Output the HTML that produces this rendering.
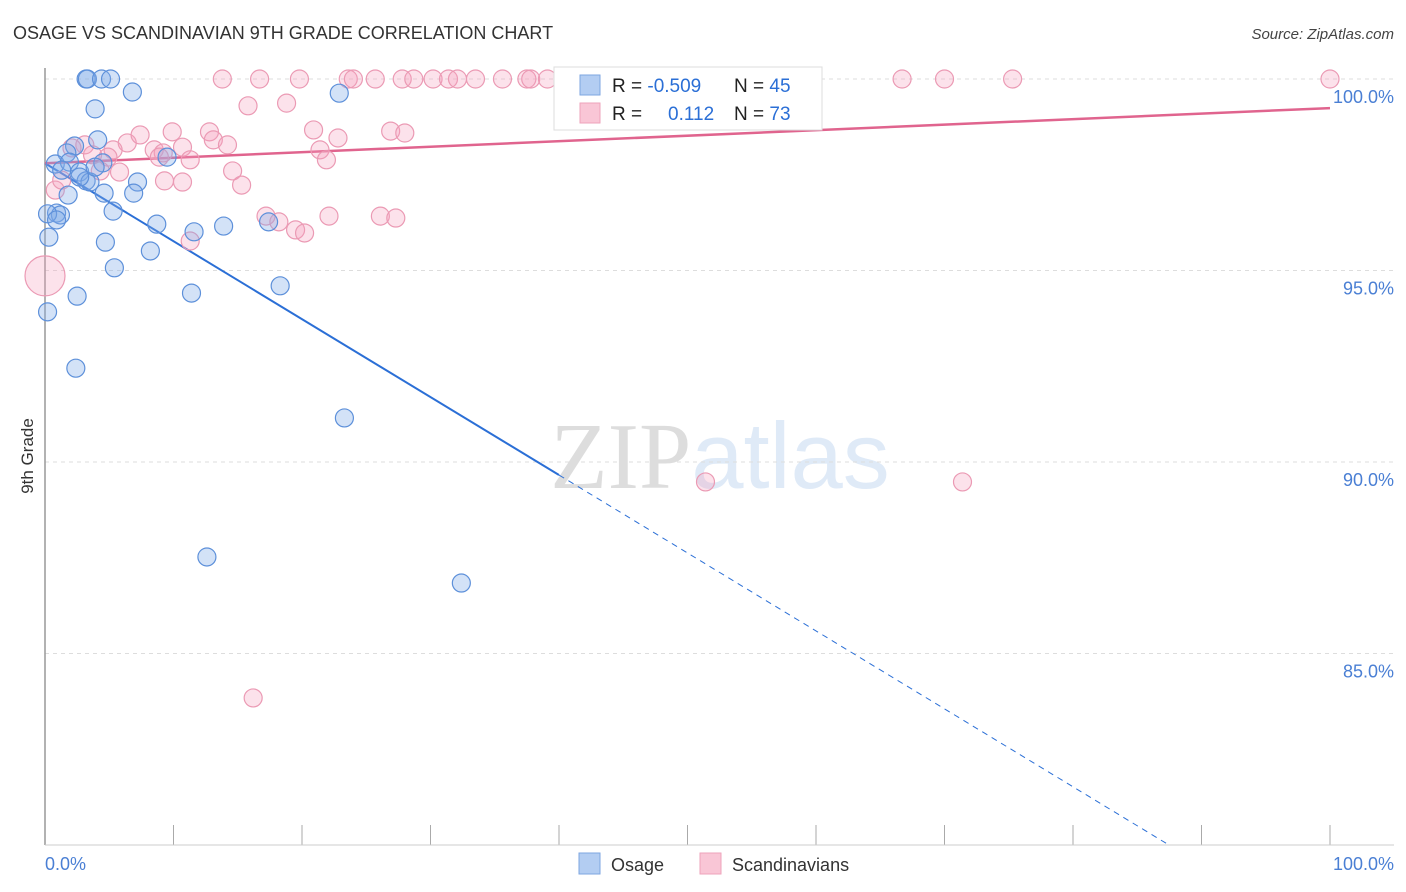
<!DOCTYPE html>
<html><head><meta charset="utf-8"><style>
body{margin:0;background:#fff;font-family:"Liberation Sans",sans-serif}
svg{display:block}
</style></head><body>
<svg width="1406" height="892" viewBox="0 0 1406 892">
<text x="13" y="39" font-size="18" fill="#333">OSAGE VS SCANDINAVIAN 9TH GRADE CORRELATION CHART</text>
<text x="1394" y="39" font-size="15" fill="#444" text-anchor="end" font-style="italic">Source: ZipAtlas.com</text>
<text x="720" y="488" font-size="94" text-anchor="middle" opacity="0.28"><tspan font-family="Liberation Serif" fill="#888">ZIP</tspan><tspan fill="#8fb5e6">atlas</tspan></text>
<g id="grid"></g>
<line x1="45" y1="68" x2="45" y2="845" stroke="#999" stroke-width="1.5"/>
<line x1="45" y1="845" x2="1394" y2="845" stroke="#ccc" stroke-width="1"/>
<text transform="translate(33,456) rotate(-90)" font-size="17" fill="#333" text-anchor="middle">9th Grade</text>
<text x="45" y="870" font-size="18" fill="#4a7fd4">0.0%</text>
<text x="1394" y="870" font-size="18" fill="#4a7fd4" text-anchor="end">100.0%</text>
<g id="lines"></g>
<g id="pts"></g>
<g>
<rect x="554" y="67" width="268" height="63" fill="#fff" stroke="#ddd"/>
<rect x="580" y="75" width="20" height="20" fill="#b3cdf2" stroke="#7ea6e0"/>
<rect x="580" y="103" width="20" height="20" fill="#f9c6d6" stroke="#eea3bb"/>
<text x="612" y="92" font-size="19" fill="#222">R = <tspan fill="#2b6fd6">-0.509</tspan></text>
<text x="734" y="92" font-size="19" fill="#222">N = <tspan fill="#2b6fd6">45</tspan></text>
<text x="612" y="120" font-size="19" fill="#222">R = <tspan x="668" fill="#2b6fd6">0.112</tspan></text>
<text x="734" y="120" font-size="19" fill="#222">N = <tspan fill="#2b6fd6">73</tspan></text>
</g>
<g>
<rect x="579" y="853" width="21" height="21" fill="#b3cdf2" stroke="#7ea6e0"/>
<text x="611" y="871" font-size="18" fill="#333">Osage</text>
<rect x="700" y="853" width="21" height="21" fill="#f9c6d6" stroke="#eea3bb"/>
<text x="732" y="871" font-size="18" fill="#333">Scandinavians</text>
</g>
</svg>
<script>
const yTicks=[100,95,90,85];
const yTickLabels=["100.0%","95.0%","90.0%","85.0%"];
const xTicks=[0,10,20,30,40,50,60,70,80,90,100];
const blueX=[3.2,3.3,4.4,5.1,6.8,3.9,22.9,4.1,2.3,1.7,0.8,1.9,1.3,2.7,3.2,3.5,4.6,1.8,7.2,6.9,9.5,5.3,0.9,1.2,0.2,0.9,0.3,4.7,8.7,11.6,13.9,17.4,8.2,5.4,18.3,11.4,2.5,0.2,2.4,23.3,12.6,32.4,4.5,3.9,2.7];
const blueY=[100,100,100,100,99.66,99.22,99.63,98.41,98.25,98.07,97.78,97.83,97.62,97.57,97.34,97.31,97.02,96.97,97.31,97.02,97.96,96.55,96.5,96.45,96.48,96.32,95.87,95.74,96.21,96.01,96.16,96.27,95.51,95.07,94.6,94.41,94.33,93.92,92.45,91.15,87.52,86.84,97.81,97.7,97.44];
const pinkX=[13.8,16.7,19.8,23.6,24.0,25.7,27.8,28.7,30.2,31.4,32.1,33.5,35.6,37.5,37.8,39.1,40.9,47.5,49.4,52.5,66.7,70.0,75.3,100,15.8,18.8,3.1,6.4,7.4,9.9,12.8,13.1,14.2,10.7,5.3,8.5,9.2,2.1,3.7,4.9,8.9,11.3,4.3,5.8,9.3,10.7,14.6,15.3,11.3,20.9,22.8,26.9,28.0,21.4,21.9,17.2,18.2,19.5,20.2,22.1,26.1,27.3,0.8,1.3,51.4,71.4,16.2,0];
const pinkY=[100,100,100,100,100,100,100,100,100,100,100,100,100,100,100,100,100,100,100,100,100,100,100,100,99.3,99.37,98.28,98.33,98.54,98.62,98.62,98.41,98.28,98.22,98.15,98.15,98.07,98.2,98.02,97.96,97.96,97.89,97.6,97.57,97.34,97.31,97.6,97.23,95.77,98.67,98.46,98.64,98.59,98.15,97.89,96.42,96.27,96.06,95.98,96.42,96.42,96.37,97.1,97.36,89.48,89.48,83.84,94.86];
const pinkR=pinkX.map((v,i)=>i===pinkX.length-1?20:9);
const blueTrend=[97.8,-0.2035];
const pinkTrend=[97.8,0.0144];
const NS="http://www.w3.org/2000/svg";
const sx=v=>45+v*12.85, sy=v=>79+(100-v)*38.3;
function mk(t,a,p){const e=document.createElementNS(NS,t);for(const k in a)e.setAttribute(k,a[k]);p.appendChild(e);return e;}
const grid=document.getElementById('grid');
yTicks.forEach((v,i)=>{
 const l=mk('line',{x1:45,x2:1394,y1:sy(v),y2:sy(v),stroke:'#ddd','stroke-dasharray':'4,4'},grid);
 
 
 const t=mk('text',{x:1394,y:sy(v)+24,'font-size':18,fill:'#4a7fd4','text-anchor':'end'},grid);
 t.textContent=yTickLabels[i];
 
 
});
xTicks.forEach(v=>{
 const l=mk('line',{x1:sx(v),x2:sx(v),y1:825,y2:845,stroke:'#aaa'},grid);
 
 
});
const lines=document.getElementById('lines');
const bx1=40, bx2=(80.0-blueTrend[0])/blueTrend[1];
let e=mk('line',{x1:sx(0),y1:sy(blueTrend[0]),x2:sx(bx1),y2:sy(blueTrend[0]+blueTrend[1]*bx1),stroke:'#2b6fd6','stroke-width':2},lines);


e=mk('line',{x1:sx(bx1),y1:sy(blueTrend[0]+blueTrend[1]*bx1),x2:sx(bx2),y2:sy(blueTrend[0]+blueTrend[1]*bx2),stroke:'#2b6fd6','stroke-width':1,'stroke-dasharray':'6,5'},lines);


e=mk('line',{x1:sx(0),y1:sy(pinkTrend[0]),x2:sx(100),y2:sy(pinkTrend[0]+pinkTrend[1]*100),stroke:'#e0648e','stroke-width':2.5},lines);


const pts=document.getElementById('pts');
pinkX.forEach((x,i)=>{
 const c=mk('circle',{cx:sx(x),cy:sy(pinkY[i]),r:pinkR[i],fill:'rgba(245,160,188,0.3)',stroke:'#eb9ab4','stroke-width':1.2},pts);
 
 
});
blueX.forEach((x,i)=>{
 const c=mk('circle',{cx:sx(x),cy:sy(blueY[i]),r:9,fill:'rgba(130,172,232,0.35)',stroke:'#5d90da','stroke-width':1.2},pts);
 
 
});
</script>
</body></html>
